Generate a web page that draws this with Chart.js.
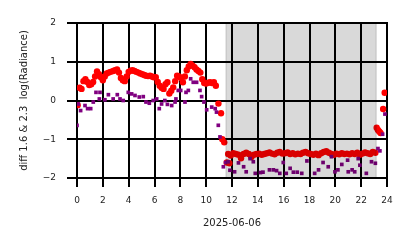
<!DOCTYPE html>
<html>
<head>
<meta charset="utf-8">
<script src="https://cdn.jsdelivr.net/npm/chart.js@4.4.1/dist/chart.umd.min.js"></script>
<style>
  html, body { margin: 0; padding: 0; background: #fff; }
  #wrap { width: 414px; height: 248px; }
</style>
</head>
<body>
<div id="wrap"><canvas id="myChart" width="414" height="248"></canvas></div>
<script>
// hours of day 2025-06-06
const redHours = [0.05,0.2,0.35,0.5,0.65,0.8,0.95,1.1,1.25,1.4,1.55,1.7,1.85,2.0,2.15,2.3,2.45,2.6,2.8,2.95,3.1,3.25,3.4,3.55,3.7,3.85,4.0,4.15,4.3,4.45,4.6,4.75,4.9,5.05,5.2,5.35,5.5,5.65,5.8,5.95,6.1,6.25,6.4,6.55,6.7,6.85,7.0,7.15,7.3,7.45,7.6,7.75,7.9,8.05,8.2,8.35,8.5,8.65,8.8,8.95,9.1,9.25,9.4,9.55,9.7,9.85,10.0,10.15,10.3,10.45,10.6,10.75,10.95,11.15,11.25,11.4,11.6,11.7,11.8,
  11.9,12.1,12.3,12.5,12.7,12.9,13.1,13.3,13.5,13.7,13.9,14.1,14.3,14.5,14.7,14.9,15.1,15.3,15.5,15.7,15.9,16.1,16.3,16.5,16.7,16.9,17.1,17.3,17.5,17.7,17.9,18.1,18.3,18.5,18.7,18.9,19.1,19.3,19.5,19.7,19.9,20.1,20.3,20.5,20.7,20.9,21.1,21.3,21.5,21.7,21.9,22.1,22.3,22.5,22.7,22.9,23.1,
  23.2,23.3,23.4,23.5,23.7,23.82];
const redValues = [-0.12,0.33,0.30,0.50,0.55,0.48,0.40,0.42,0.48,0.62,0.75,0.68,0.60,0.52,0.62,0.70,0.72,0.74,0.76,0.78,0.80,0.72,0.58,0.52,0.50,0.62,0.74,0.77,0.78,0.76,0.74,0.72,0.70,0.68,0.66,0.64,0.63,0.64,0.62,0.60,0.60,0.48,0.38,0.33,0.30,0.42,0.47,0.18,0.25,0.34,0.50,0.64,0.62,0.58,0.47,0.62,0.78,0.88,0.94,0.90,0.86,0.80,0.76,0.72,0.55,0.45,0.44,0.46,0.47,0.45,0.47,0.38,-0.08,-0.33,-1.00,-1.08,-1.60,-1.38,-1.62,
  -1.42,-1.36,-1.38,-1.40,-1.49,-1.38,-1.35,-1.38,-1.46,-1.40,-1.38,-1.37,-1.40,-1.38,-1.36,-1.34,-1.37,-1.39,-1.35,-1.33,-1.37,-1.36,-1.34,-1.38,-1.36,-1.39,-1.37,-1.38,-1.35,-1.33,-1.36,-1.38,-1.40,-1.37,-1.41,-1.36,-1.33,-1.31,-1.35,-1.38,-1.40,-1.37,-1.39,-1.36,-1.38,-1.37,-1.39,-1.36,-1.38,-1.35,-1.40,-1.37,-1.34,-1.36,-1.38,-1.33,-1.35,
  -0.70,-0.76,-0.80,-0.84,-0.22,0.20];

const purpleHours = [0.0,0.1,0.28,0.62,0.82,1.06,1.26,1.47,1.73,1.78,2.16,2.43,2.8,3.12,3.33,3.58,3.97,4.23,4.49,4.82,5.13,5.34,5.6,5.9,6.17,6.37,6.55,6.8,7.0,7.33,7.59,7.66,7.84,8.03,8.36,8.44,8.62,8.8,9.0,9.26,9.52,9.65,9.83,10.04,10.43,10.7,10.8,10.94,11.07,11.33,11.5,11.7,11.84,
  12.2,12.5,12.9,13.1,13.4,13.65,13.8,14.2,14.4,14.9,15.2,15.45,15.7,15.97,16.2,16.5,16.75,17.05,17.4,17.8,18.4,18.7,19.05,19.45,19.7,19.97,20.2,20.5,20.95,21.0,21.3,21.5,21.77,21.9,22.4,22.8,23.1,23.3,23.45,23.66,23.84];
const purpleValues = [-0.64,-0.09,-0.26,-0.13,-0.21,-0.21,-0.04,0.21,0.04,0.21,0.02,0.15,0.04,0.15,0.04,0.0,0.21,0.17,0.13,0.09,0.10,-0.04,-0.07,0.0,0.04,-0.21,-0.09,0.0,-0.10,-0.13,-0.04,0.04,0.26,0.26,-0.04,0.21,0.26,0.56,0.47,0.47,0.26,0.10,-0.04,-0.24,-0.17,-0.21,-0.30,-0.64,-0.94,-1.71,-1.60,-1.58,-1.80,
  -1.84,-1.61,-1.71,-1.84,-1.50,-1.58,-1.88,-1.86,-1.85,-1.79,-1.79,-1.81,-1.88,-1.60,-1.88,-1.75,-1.85,-1.85,-1.88,-1.56,-1.88,-1.79,-1.60,-1.71,-1.45,-1.84,-1.79,-1.65,-1.54,-1.84,-1.79,-1.84,-1.50,-1.67,-1.88,-1.58,-1.62,-1.24,-1.30,-0.87,-0.35];

const xTicks = [0,2,4,6,8,10,12,14,16,18,20,22,24];
const yTicks = [-2,-1,0,1,2];

// shaded night period (hours)
const nightStart = 11.5;
const nightEnd = 23.2;

function pts(xs, ys) {
  return xs.map((x, i) => ({ x: x, y: ys[i] }));
}

// black grid + tick marks, drawn as filled bars from the scales' tick positions
const blackGrid = {
  id: 'blackGrid',
  beforeDatasetsDraw(chart) {
    const c = chart.ctx;
    const a = chart.chartArea;
    const xs = chart.scales.x, ys = chart.scales.y;
    c.save();
    c.fillStyle = '#000';
    xs.ticks.forEach(t => {
      const px = Math.round(xs.getPixelForValue(t.value));
      c.fillRect(px - 1, a.top - 1, 2, a.bottom - a.top + 10);
    });
    ys.ticks.forEach(t => {
      const py = Math.round(ys.getPixelForValue(t.value));
      c.fillRect(a.left - 10, py - 1, a.right - a.left + 11, 2);
    });
    c.restore();
  },
  afterDatasetsDraw(chart) {
    const c = chart.ctx;
    const a = chart.chartArea;
    const x0 = chart.scales.x.getPixelForValue(nightStart);
    const x1 = chart.scales.x.getPixelForValue(nightEnd);
    c.save();
    c.fillStyle = 'rgba(0,0,0,0.15)';
    c.fillRect(x0, a.top, x1 - x0, a.bottom - a.top);
    c.fillStyle = 'rgba(0,0,0,0.07)';
    c.fillRect(x0, a.top, 1.5, a.bottom - a.top);
    c.fillRect(x1 - 1.5, a.top, 1.5, a.bottom - a.top);
    c.restore();
  }
};

Chart.defaults.font.family = 'DejaVu Sans';
Chart.defaults.color = '#222';

const ctx = document.getElementById('myChart');
const myChart = new Chart(ctx, {
  type: 'scatter',
  data: {
    datasets: [{
      label: 'purple',
      data: pts(purpleHours, purpleValues),
      pointStyle: 'rect',
      pointRadius: 2.6,
      pointBorderWidth: 0,
      backgroundColor: '#800080',
      borderColor: '#800080'
    }, {
      label: 'red',
      data: pts(redHours, redValues),
      pointStyle: 'circle',
      pointRadius: 3.2,
      pointBorderWidth: 0,
      backgroundColor: '#ff0000',
      borderColor: '#ff0000'
    }]
  },
  options: {
    responsive: false,
    animation: false,
    layout: { padding: { left: 0, right: 27, top: 23, bottom: 0 } },
    plugins: { legend: { display: false }, tooltip: { enabled: false } },
    scales: {
      x: {
        type: 'linear',
        min: xTicks[0], max: xTicks[xTicks.length - 1],
        afterFit: (s) => { s.height = 70; },
        grid: { display: false, tickLength: 9 },
        border: { display: false },
        ticks: { stepSize: xTicks[1] - xTicks[0], font: { size: 9 }, padding: 8, maxRotation: 0, color: '#222' },
        title: { display: true, text: '2025-06-06', font: { size: 10 }, padding: { top: 0, bottom: 19 }, color: '#222' }
      },
      y: {
        type: 'linear',
        min: yTicks[0], max: yTicks[yTicks.length - 1],
        afterFit: (s) => { s.width = 77; },
        grid: { display: false, tickLength: 10 },
        border: { display: false },
        ticks: {
          stepSize: yTicks[1] - yTicks[0],
          font: { size: 9 }, padding: 11, color: '#222',
          callback: (v) => String(v).replace('-', '\u2212')
        },
        title: { display: true, text: 'diff 1.6 & 2.3  log(Radiance)', font: { size: 10 }, padding: { top: 18, bottom: 0 }, color: '#222' }
      }
    }
  },
  plugins: [blackGrid]
});
</script>
</body>
</html>
